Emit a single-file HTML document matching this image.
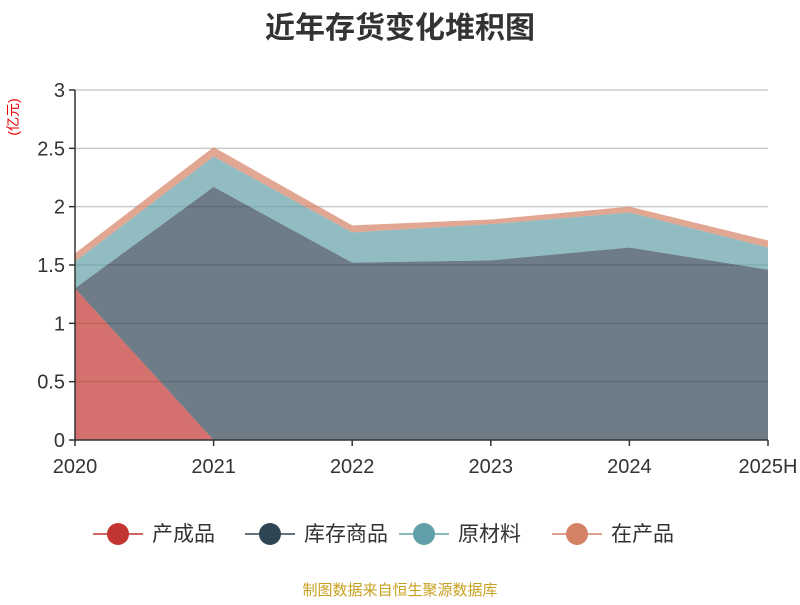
<!DOCTYPE html>
<html><head><meta charset="utf-8"><style>
body{margin:0;background:#fff;font-family:"Liberation Sans","Noto Sans CJK SC",sans-serif}
</style></head><body>
<svg id="c" width="800" height="600" xmlns="http://www.w3.org/2000/svg">
<text x="400" y="38" text-anchor="middle" font-size="30" font-weight="bold" fill="#333" font-family="Liberation Sans,Noto Sans CJK SC,sans-serif">近年存货变化堆积图</text>
<text transform="translate(18,117) rotate(-90)" text-anchor="middle" font-size="14" fill="#e00" font-family="Liberation Sans,Noto Sans CJK SC,sans-serif">(亿元)</text>
<g id="grid"></g><g id="areas"></g><g id="axes"></g><g id="legend"></g>
<text x="400" y="595" text-anchor="middle" font-size="15" fill="#c8a020" font-family="Liberation Sans,Noto Sans CJK SC,sans-serif">制图数据来自恒生聚源数据库</text>
</svg>
<script>
const categories=["2020","2021","2022","2023","2024","2025H"];
const seriesNames=["产成品","库存商品","原材料","在产品"];
const s0=[1.30,0,0,0,0,0];
const s1=[0,2.17,1.52,1.54,1.65,1.46];
const s2=[0.23,0.26,0.26,0.31,0.30,0.19];
const s3=[0.07,0.08,0.06,0.04,0.05,0.06];
const yTicks=[0,0.5,1,1.5,2,2.5,3];
const yTickLabels=["0","0.5","1","1.5","2","2.5","3"];
const colors=["#c23531","#2f4554","#61a0a8","#d48265"];
const NS="http://www.w3.org/2000/svg";
const X0=75,X1=768,Y0=440,Y1=90,YMAX=3;
const x=i=>X0+(X1-X0)*i/(categories.length-1);
const y=v=>Y0-(Y0-Y1)*v/YMAX;
function mk(tag,attrs,parent){const e=document.createElementNS(NS,tag);for(const k in attrs)e.setAttribute(k,attrs[k]);parent.appendChild(e);return e;}
const grid=document.getElementById('grid'),axes=document.getElementById('axes'),areas=document.getElementById('areas'),legend=document.getElementById('legend');
yTicks.forEach((t,i)=>{
 if(t>0){const g=mk('line',{x1:X0,x2:X1,y1:y(t),y2:y(t),stroke:'#ccc','stroke-width':1.5},grid);
 
 }
 const tk=mk('line',{x1:X0-6,x2:X0,y1:y(t),y2:y(t),stroke:'#333','stroke-width':1.5},axes);
 
 
 const tl=mk('text',{x:X0-10,y:y(t)+7,'text-anchor':'end','font-size':20,fill:'#333'},axes);tl.textContent=yTickLabels[i];
 
 
});
const series=[s0,s1,s2,s3];
let base=categories.map(()=>0);
series.forEach((s,k)=>{
 const top=base.map((b,i)=>b+s[i]);
 let d='M'+categories.map((c,i)=>x(i)+','+y(top[i])).join('L');
 for(let i=categories.length-1;i>=0;i--)d+='L'+x(i)+','+y(base[i]);
 d+='Z';
 const p=mk('path',{d:d,fill:colors[k],'fill-opacity':0.7,stroke:'none'},areas);
 
 
 base=top;
});
const ax=mk('line',{x1:X0,x2:X0,y1:Y1,y2:Y0,stroke:'#333','stroke-width':1.5},axes);


const xa=mk('line',{x1:X0,x2:X1,y1:Y0,y2:Y0,stroke:'#333','stroke-width':1.5},axes);


categories.forEach((c,i)=>{
 const t=mk('line',{x1:x(i),x2:x(i),y1:Y0,y2:Y0+6,stroke:'#333','stroke-width':1.5},axes);
 
 
 const l=mk('text',{x:x(i),y:Y0+33,'text-anchor':'middle','font-size':20,fill:'#333'},axes);l.textContent=c;
 
 
});
const lx=[118,270,424,577];
seriesNames.forEach((n,k)=>{
 const g=mk('g',{},legend);
 
 
 mk('line',{x1:lx[k]-25,x2:lx[k]+25,y1:534,y2:534,stroke:colors[k],'stroke-width':1.5},g);
 mk('circle',{cx:lx[k],cy:534,r:11,fill:colors[k]},g);
 const t=mk('text',{x:lx[k]+34,y:541,'font-size':21,fill:'#333'},g);t.textContent=n;
});
</script>
</body></html>
